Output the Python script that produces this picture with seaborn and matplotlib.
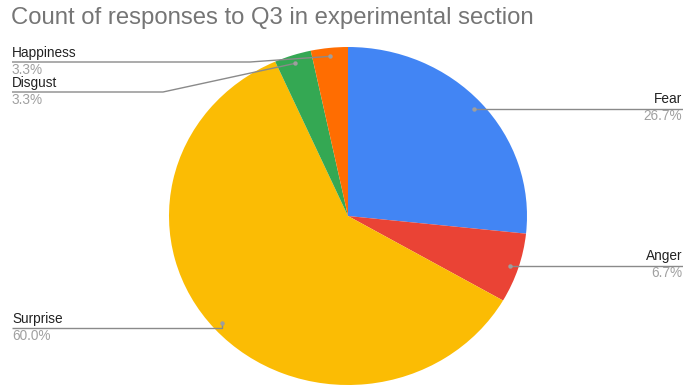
import numpy as np
import matplotlib
matplotlib.use("Agg")
import matplotlib.pyplot as plt
import seaborn as sns

# Responses to Q3 (counts), in the order they are drawn clockwise from 12 o'clock
emotions = ["Fear", "Anger", "Surprise", "Disgust", "Happiness"]
counts = [8, 2, 18, 1, 1]
colors = ["#4285F4", "#EA4335", "#FBBC04", "#34A853", "#FF6D01"]
title = "Count of responses to Q3 in experimental section"

sns.set_theme(style="white")
plt.rcParams["font.family"] = ["Liberation Sans", "DejaVu Sans"]

W, H = 683, 388
fig = plt.figure(figsize=(W / 100, H / 100), dpi=100)
ax = fig.add_axes([0, 0, 1, 1])

# Pie geometry in pixels (centre and radii; the pie is slightly wider than tall)
CX, CY, RX, RY = 348, 216, 179, 169

wedges, _ = ax.pie(counts, colors=colors, startangle=90, counterclock=False,
                   radius=1.0, wedgeprops=dict(linewidth=0))
ax.set_aspect("auto")
ax.set_xlim((0 - CX) / RX, (W - CX) / RX)
ax.set_ylim((CY - H) / RY, CY / RY)
ax.axis("off")


def px(x, y):
    """Pixel position (origin top-left) to data coordinates."""
    return (x - CX) / RX, (CY - y) / RY


total = sum(counts)
pcts = [100 * c / total for c in counts]

# Label layout: (text x, line y, side, elbow x)
layout = {
    "Fear": (682, 109, "right", None),
    "Anger": (682, 268, "right", None),
    "Surprise": (12, 328, "left", None),
    "Disgust": (12, 92, "left", 163),
    "Happiness": (12, 62, "left", 250),
}

line_col = "#8a8a8a"
for w, name, pct in zip(wedges, emotions, pcts):
    mid = np.deg2rad((w.theta1 + w.theta2) / 2)
    dx, dy = 0.95 * np.cos(mid), 0.95 * np.sin(mid)
    tx, ly, side, elbow = layout[name]
    lx0, ly0 = px(tx, ly)
    if side == "left":
        xs = [lx0]
        ys = [ly0]
        if elbow is not None:
            ex, ey = px(elbow, ly)
            xs.append(ex)
            ys.append(ey)
        else:
            xs.append(dx)
            ys.append(ly0)
        xs.append(dx)
        ys.append(dy)
    else:
        xs = [dx, lx0 + 2 / RX]
        ys = [dy, dy]
        ly0 = dy
    ax.plot(xs, ys, color=line_col, lw=1.0, solid_capstyle="butt", clip_on=False)
    ax.plot([dx], [dy], "o", color="#9e9e9e", ms=3.2, mec="none", clip_on=False)
    ha = "left" if side == "left" else "right"
    ax.text(lx0, ly0 + 2.5 / RY, name, ha=ha, va="bottom", fontsize=9.8,
            color="#222222")
    ax.text(lx0, ly0 - 0.5 / RY, f"{pct:.1f}%", ha=ha, va="top", fontsize=9.8,
            color="#a0a0a0")

fig.text(11 / W, 1 - 18 / H, title, ha="left", va="center", fontsize=17.2,
         color="#757575")

fig.savefig("out.png", dpi=100)
